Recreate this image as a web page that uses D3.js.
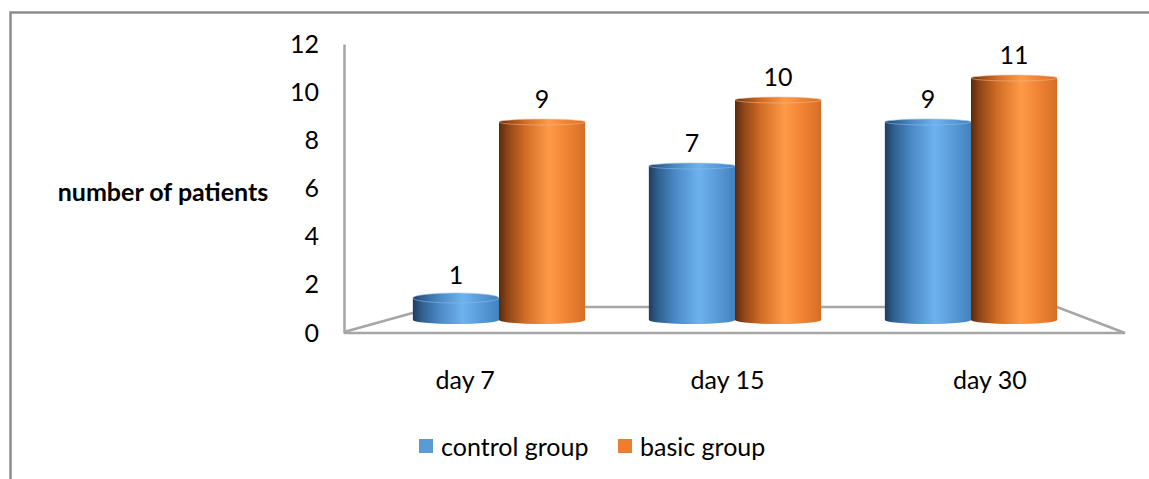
<!DOCTYPE html>
<html>
<head>
<meta charset="utf-8">
<script src="https://cdn.jsdelivr.net/npm/d3@7"></script>
<style>
  html, body { margin: 0; padding: 0; background: #fff; }
  svg { display: block; font-family: Lato, "Open Sans", sans-serif; }
</style>
</head>
<body>
<svg id="chart" width="1149" height="479"></svg>
<script>
// Patients per time point, two groups
const categories = ["day 7", "day 15", "day 30"];
const seriesNames = ["control group", "basic group"];
const controlValues = [1, 7, 9];
const basicValues = [9, 10, 11];
const yTicks = [0, 2, 4, 6, 8, 10, 12];
const seriesColors = ["#5B9BD5", "#ED7D31"];

const svg = d3.select("#chart");
const W = 1149, H = 479;
const FS = 25;

// outer frame (left and top edges)
svg.append("path")
  .attr("d", `M10.5,${H} V12.5 H${W}`)
  .attr("fill", "none").attr("stroke", "#8C8C8C").attr("stroke-width", 2.5);

// gradients for the cylinder bodies
const defs = svg.append("defs");
const gradStops = [
  [["0%", "#1E3C5C"], ["10%", "#2F5F8E"], ["30%", "#4A88C4"], ["58%", "#6DB2EE"], ["78%", "#5A9CDA"], ["100%", "#4282BE"]],
  [["0%", "#5A2A0C"], ["10%", "#8E4518"], ["30%", "#D06C26"], ["58%", "#FF9A48"], ["78%", "#F08434"], ["100%", "#D56E26"]]
];
gradStops.forEach((stops, i) => {
  const g = defs.append("linearGradient").attr("id", "cyl" + i)
    .attr("x1", "0%").attr("x2", "100%").attr("y1", "0%").attr("y2", "0%");
  stops.forEach(s => g.append("stop").attr("offset", s[0]).attr("stop-color", s[1]));
});

// front plane scale (axis labels) and mid-depth scale (bars)
const yFront = d3.scaleLinear().domain([0, 12]).range([333, 44]);
const yBar = d3.scaleLinear().domain([0, 12]).range([320, 56]);

const xFront = d3.scaleBand().domain(categories).range([338, 1125]);
const xGroup = d3.scaleBand().domain(categories).range([381, 1089]).paddingInner(0.27).paddingOuter(0.135);
const xSeries = d3.scaleBand().domain(seriesNames).range([0, xGroup.bandwidth()]);

// floor of the 3D plot area
const floorColor = "#A6A6A6";
const floor = svg.append("g").attr("stroke", floorColor).attr("stroke-width", 2.5).attr("fill", "none");
floor.append("path").attr("d", "M344,332 L434,307 L1057,307 L1125,333 L344,333");

// y axis
const yAxis = d3.axisLeft(yFront).tickValues(yTicks).tickSize(0).tickPadding(25).tickFormat(d3.format("d"));
const yg = svg.append("g").attr("transform", "translate(344,0)").call(yAxis);
yg.select(".domain").attr("stroke", floorColor).attr("stroke-width", 2.5);
yg.selectAll("text").attr("font-size", FS).attr("fill", "#000").attr("font-family", "Lato, sans-serif");

// y axis title
svg.append("text")
  .attr("x", 163).attr("y", 191)
  .attr("text-anchor", "middle").attr("dominant-baseline", "central")
  .attr("font-size", FS).attr("font-weight", "bold").text("number of patients");

// category labels
svg.append("g").selectAll("text").data(categories).join("text")
  .attr("x", d => xFront(d) + xFront.bandwidth() / 2 - 4)
  .attr("y", 379)
  .attr("text-anchor", "middle").attr("dominant-baseline", "central")
  .attr("font-size", FS).text(d => d);

// cylinders
const rows = [];
categories.forEach((c, ci) => {
  rows.push({ cat: c, s: 0, v: controlValues[ci] });
  rows.push({ cat: c, s: 1, v: basicValues[ci] });
});
const ry = 4;
const bars = svg.append("g").selectAll("g").data(rows).join("g")
  .attr("transform", d => `translate(${xGroup(d.cat) + xSeries(seriesNames[d.s])},0)`);
const bw = xSeries.bandwidth();

bars.append("ellipse")
  .attr("cx", bw / 2).attr("cy", yBar(0)).attr("rx", bw / 2).attr("ry", ry)
  .attr("fill", d => `url(#cyl${d.s})`);
bars.append("rect")
  .attr("x", 0).attr("width", bw)
  .attr("y", d => yBar(d.v)).attr("height", d => yBar(0) - yBar(d.v))
  .attr("fill", d => `url(#cyl${d.s})`);
bars.append("ellipse")
  .attr("cx", bw / 2).attr("cy", d => yBar(d.v)).attr("rx", bw / 2)
  .attr("ry", d => d.v < 3 ? 5 : 3)
  .attr("fill", d => `url(#cyl${d.s})`)
  .attr("stroke", d => d.s === 0 ? "#8FBFE8" : "#F6B98A").attr("stroke-width", 0.8).attr("stroke-opacity", 0.7);

// value labels
bars.append("text")
  .attr("x", bw / 2).attr("y", d => yBar(d.v) - 24)
  .attr("text-anchor", "middle").attr("dominant-baseline", "central")
  .attr("font-size", FS).text(d => d.v);

// legend
const legend = svg.append("g").attr("font-size", FS);
const legendX = [419, 618];
seriesNames.forEach((name, i) => {
  legend.append("rect").attr("x", legendX[i]).attr("y", 439).attr("width", 14).attr("height", 14)
    .attr("fill", seriesColors[i]);
  legend.append("text").attr("x", legendX[i] + 22).attr("y", 446)
    .attr("dominant-baseline", "central").text(name);
});
</script>
</body>
</html>
